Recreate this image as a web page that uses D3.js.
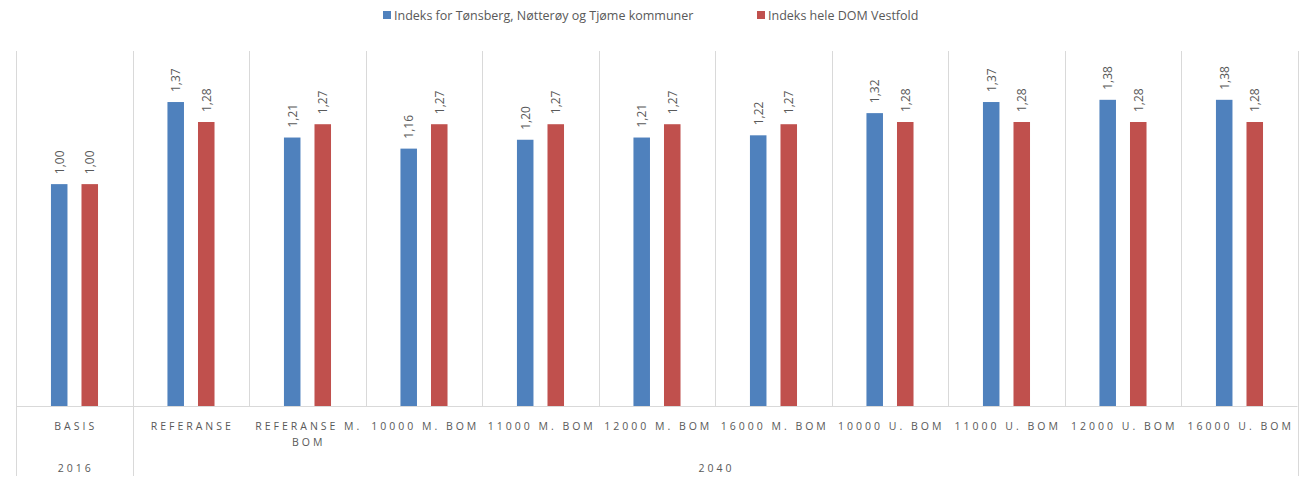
<!DOCTYPE html>
<html>
<head>
<meta charset="utf-8">
<script src="https://cdn.jsdelivr.net/npm/d3@7"></script>
<style>
  html, body { margin: 0; padding: 0; background: #fff; }
  svg { display: block; }
</style>
</head>
<body>
<svg id="chart" width="1305" height="480"></svg>
<script>
// Scenario categories, grouped by year
const categories = ["BASIS", "REFERANSE", "REFERANSE M. BOM", "10000 M. BOM", "11000 M. BOM",
  "12000 M. BOM", "16000 M. BOM", "10000 U. BOM", "11000 U. BOM", "12000 U. BOM", "16000 U. BOM"];
const years = ["2016", "2040"];
const yearOfCategory = ["2016", "2040", "2040", "2040", "2040", "2040", "2040", "2040", "2040", "2040", "2040"];

const seriesNames = ["Indeks for Tønsberg, Nøtterøy og Tjøme kommuner", "Indeks hele DOM Vestfold"];
const tnsValues = [1.00, 1.37, 1.21, 1.16, 1.20, 1.21, 1.22, 1.32, 1.37, 1.38, 1.38];
const domValues = [1.00, 1.28, 1.27, 1.27, 1.27, 1.27, 1.27, 1.28, 1.28, 1.28, 1.28];
const colors = ["#4f81bd", "#c0504d"];

const svg = d3.select("#chart");
const plotLeft = 16, plotRight = 1297.5, plotTop = 51, plotBase = 406, plotBottom = 476;
const gridColor = "#d9d9d9", textColor = "#595959";
const axisFont = "Open Sans, Liberation Sans, sans-serif";
const spacing = 3;
const fmt = v => d3.format(".2f")(v).replace(".", ",");

const x = d3.scaleBand().domain(categories).range([plotLeft, plotRight]).padding(0);
const bw = x.bandwidth();
const xs = d3.scaleBand().domain(seriesNames)
  .range([bw * 0.300, bw * 0.704]).paddingInner(0.459).paddingOuter(0);
const y = d3.scaleLinear().domain([0, 1.6]).range([plotBase, plotTop]);

// Category dividers inside the plot
svg.append("g").selectAll("line").data(categories.slice(1)).join("line")
  .attr("x1", d => Math.round(x(d)) + 0.5).attr("x2", d => Math.round(x(d)) + 0.5)
  .attr("y1", plotTop).attr("y2", plotBase)
  .attr("stroke", gridColor).attr("stroke-width", 1);

// Year group boundaries run down through the axis labels
const groupEdges = [plotLeft, x(categories[1]), plotRight];
svg.append("g").selectAll("line").data(groupEdges).join("line")
  .attr("x1", d => Math.round(d) + 0.5).attr("x2", d => Math.round(d) + 0.5)
  .attr("y1", plotTop).attr("y2", plotBottom)
  .attr("stroke", gridColor).attr("stroke-width", 1);

// Baseline
svg.append("line")
  .attr("x1", plotLeft).attr("x2", plotRight).attr("y1", plotBase + 0.5).attr("y2", plotBase + 0.5)
  .attr("stroke", gridColor).attr("stroke-width", 1);

// Bars and rotated value labels
const rows = categories.map((c, i) => [
  { cat: c, s: seriesNames[0], v: tnsValues[i], col: colors[0] },
  { cat: c, s: seriesNames[1], v: domValues[i], col: colors[1] }
]).flat();

svg.append("g").selectAll("rect").data(rows).join("rect")
  .attr("x", d => x(d.cat) + xs(d.s))
  .attr("width", xs.bandwidth())
  .attr("y", d => y(d.v))
  .attr("height", d => plotBase - y(d.v))
  .attr("fill", d => d.col);

svg.append("g").selectAll("text").data(rows).join("text")
  .attr("transform", d => `translate(${x(d.cat) + xs(d.s) + xs.bandwidth() / 2 + 4.5},${y(d.v) - 10}) rotate(-90)`)
  .attr("text-anchor", "start")
  .attr("font-family", axisFont)
  .attr("font-size", 12)
  .attr("fill", textColor)
  .text(d => fmt(d.v));

// Category labels (wrapped to the band width)
const catG = svg.append("g")
  .attr("font-family", axisFont)
  .attr("font-size", 10.5)
  .attr("letter-spacing", spacing + "px")
  .attr("fill", textColor)
  .attr("text-anchor", "middle");

categories.forEach(c => {
  const cx = x(c) + bw / 2 + spacing / 2;
  const t = catG.append("text").attr("x", cx).attr("y", 429.5);
  const words = c.split(" ");
  let line = [];
  let tspan = t.append("tspan").attr("x", cx).attr("dy", 0);
  words.forEach(w => {
    line.push(w);
    tspan.text(line.join(" "));
    if (tspan.node().getComputedTextLength() > bw - 2 && line.length > 1) {
      line.pop();
      tspan.text(line.join(" "));
      line = [w];
      tspan = t.append("tspan").attr("x", cx).attr("dy", 16).text(w);
    }
  });
});

// Year labels centred under their groups
const yearG = svg.append("g")
  .attr("font-family", axisFont)
  .attr("font-size", 10.5)
  .attr("letter-spacing", spacing + "px")
  .attr("fill", textColor)
  .attr("text-anchor", "middle");
years.forEach(yr => {
  const cats = categories.filter((c, i) => yearOfCategory[i] === yr);
  const x0 = x(cats[0]), x1 = x(cats[cats.length - 1]) + bw;
  yearG.append("text").attr("x", (x0 + x1) / 2 + spacing / 2).attr("y", 472).text(yr);
});

// Legend
const legend = svg.append("g")
  .attr("font-family", "Open Sans, Liberation Sans, sans-serif")
  .attr("font-size", 12.5)
  .attr("fill", textColor);
const legendX = [383, 757];
seriesNames.forEach((s, i) => {
  legend.append("rect").attr("x", legendX[i]).attr("y", 11)
    .attr("width", 8).attr("height", 8).attr("fill", colors[i]);
  legend.append("text").attr("x", legendX[i] + 11).attr("y", 20).text(s);
});
</script>
</body>
</html>
